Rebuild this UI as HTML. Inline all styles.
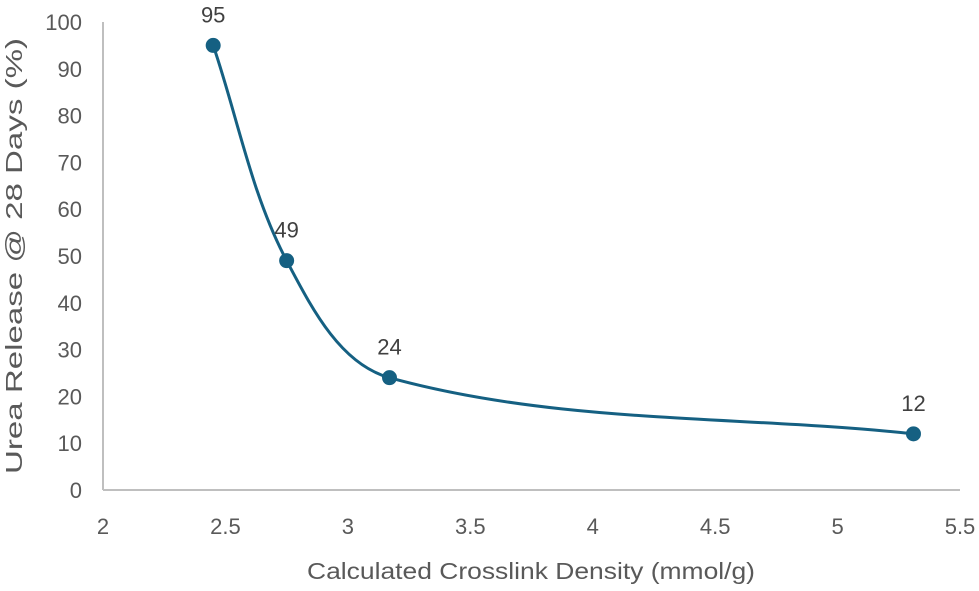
<!DOCTYPE html>
<html><head><meta charset="utf-8"><style>
body{margin:0;background:#fff;}
svg text{font-family:"Liberation Sans",sans-serif;fill:#595959;}
</style></head><body>
<svg id="chart" width="979" height="586" xmlns="http://www.w3.org/2000/svg">
<g id="axes"></g><g id="plot"></g>
<text transform="translate(22,256) rotate(-90)" text-anchor="middle" font-size="23" textLength="436" lengthAdjust="spacingAndGlyphs">Urea Release @ 28 Days (%)</text>
<text x="531" y="579" text-anchor="middle" font-size="23" textLength="448" lengthAdjust="spacingAndGlyphs">Calculated Crosslink Density (mmol/g)</text>
</svg>
<script>
const xValues=[2.45,2.75,3.17,5.31];
const yValues=[95,49,24,12];
const pointLabels=["95","49","24","12"];
const xTicks=[2,2.5,3,3.5,4,4.5,5,5.5];
const xTickLabels=["2","2.5","3","3.5","4","4.5","5","5.5"];
const yTicks=[0,10,20,30,40,50,60,70,80,90,100];
const yTickLabels=["0","10","20","30","40","50","60","70","80","90","100"];
const X0=103,X1=960,Y0=490,Y1=22;
const sx=v=>X0+(v-2)/3.5*(X1-X0);
const sy=v=>Y0-v/100*(Y0-Y1);
const NS="http://www.w3.org/2000/svg";
const axes=document.getElementById('axes'),plot=document.getElementById('plot');
function mk(tag,attrs,parent){const e=document.createElementNS(NS,tag);for(const k in attrs)e.setAttribute(k,attrs[k]);parent.appendChild(e);return e;}
let a=mk('line',{x1:X0,y1:Y0,x2:X1,y2:Y0,stroke:'#bfbfbf','stroke-width':2},axes);


a=mk('line',{x1:X0,y1:Y0,x2:X0,y2:Y1,stroke:'#bfbfbf','stroke-width':2},axes);


xTicks.forEach((t,i)=>{const e=mk('text',{x:sx(t),y:534,'text-anchor':'middle','font-size':22},axes);e.textContent=xTickLabels[i];

});
yTicks.forEach((t,i)=>{const e=mk('text',{x:82,y:sy(t)+8,'text-anchor':'end','font-size':22},axes);e.textContent=yTickLabels[i];

});
const P=xValues.map((x,i)=>[sx(x),sy(yValues[i])]);
function tan(i){const p0=P[i-1]||P[i],p2=P[i+1]||P[i];const dx=p2[0]-p0[0],dy=p2[1]-p0[1];const L=Math.hypot(dx,dy)||1;return [dx/L,dy/L];}
let d=`M${P[0][0]},${P[0][1]}`;
for(let i=0;i<P.length-1;i++){const p1=P[i],p2=P[i+1];const L=Math.hypot(p2[0]-p1[0],p2[1]-p1[1])/3;const t1=tan(i),t2=tan(i+1);
d+=` C${p1[0]+t1[0]*L},${p1[1]+t1[1]*L} ${p2[0]-t2[0]*L},${p2[1]-t2[1]*L} ${p2[0]},${p2[1]}`;}
const line=mk('path',{d:d,fill:'none',stroke:'#156082','stroke-width':3},plot);


P.forEach((p,i)=>{const c=mk('circle',{cx:p[0],cy:p[1],r:7.5,fill:'#156082'},plot);


const l=mk('text',{x:p[0],y:p[1]-23,'text-anchor':'middle','font-size':22,style:'fill:#404040'},plot);l.textContent=pointLabels[i];

});
</script>
</body></html>
